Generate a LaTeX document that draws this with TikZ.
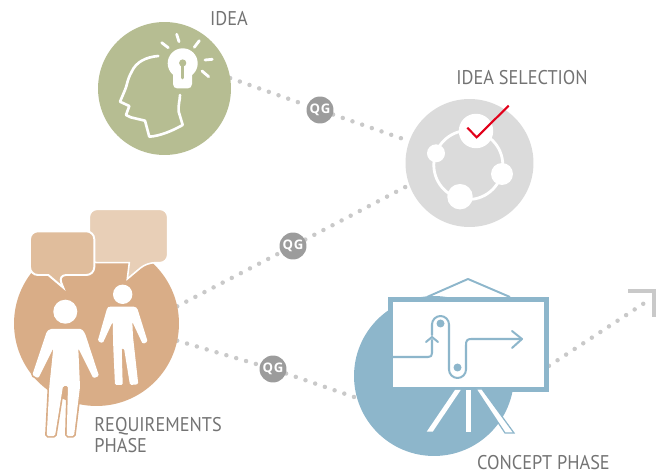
\documentclass[tikz,border=0pt]{standalone}
\usepackage{fontspec}
\usetikzlibrary{backgrounds}
\newfontfamily\labelfont[FakeStretch=0.92]{PT Sans}
\newfontfamily\badgefont[LetterSpace=6]{Open Sans}
\definecolor{ideagreen}{HTML}{B6BD92}
\definecolor{selectgrey}{HTML}{DBDBDB}
\definecolor{reqtan}{HTML}{D9AD87}
\definecolor{bubbleback}{HTML}{E8CFB7}
\definecolor{bubblefront}{HTML}{E0BD9C}
\definecolor{conceptblue}{HTML}{8DB6CB}
\definecolor{dotgrey}{HTML}{C9C9C9}
\definecolor{labelgrey}{HTML}{737373}
\definecolor{badgegrey}{HTML}{9C9C9C}
\definecolor{checkred}{HTML}{E2001A}

\begin{document}
\begin{tikzpicture}[
    x=0.02cm, y=-0.02cm,
    phase/.style={circle, inner sep=0pt, outer sep=0pt},
    knot/.style={circle, fill=white, inner sep=0pt, outer sep=0pt},
    badge/.style={circle, fill=badgegrey, text=white, inner sep=0pt, minimum size=0.54cm, font=\badgefont\bfseries\fontsize{7.5}{7.5}\selectfont},
    caption/.style={inner sep=0pt, text=labelgrey, font=\labelfont\fontsize{11.3}{12}\selectfont},
    link/.style={draw=dotgrey, line width=2.55pt, line cap=round, dash pattern=on 0pt off 5.84pt},
    stroke/.style={draw=white, line width=1.5pt, line cap=round, line join=round},
    person/.style={preaction={draw=reqtan, line width=1.9pt}, fill=white, rounded corners=0.8pt},
    pen/.style={draw=conceptblue, line width=1.15pt, line cap=round, line join=round}
]
    \useasboundingbox (0,0) rectangle (667,473);

    % phases
    \node[phase, fill=ideagreen, minimum size=2.66cm] (idea) at (164.5,88.5) {};
    \node[phase, fill=selectgrey, minimum size=2.56cm] (selection) at (469.5,163) {};
    \node[phase, fill=reqtan, minimum size=3.3cm] (requirements) at (96.5,323.5) {};
    \node[phase, fill=conceptblue, minimum size=3.2cm] (concept) at (434,376) {};

    % board
    \node[draw=conceptblue, fill=white, line width=2.84pt, minimum width=3.12cm, minimum height=1.79cm, inner sep=0pt] (board) at (468.5,344.3) {};

    % quality gates
    \node[badge] (qgidea) at (320,110) {QG};
    \node[badge] (qgreq) at (293,246) {QG};
    \node[badge] (qgconcept) at (273,369) {QG};

    % end of the last link
    \coordinate (goal) at (646,302);

    % links
    \begin{scope}[on background layer]
        \draw[link] (idea.9) -- (qgidea) -- (selection.160);
        \draw[link] (requirements.12) -- (qgreq) -- (selection.200);
        \draw[link] (requirements.-12) -- (qgconcept) -- (concept.196);
        \draw[link] (board.-15) -- (goal);
    \end{scope}
    \draw[draw=dotgrey, line width=2.4pt] (628,291) -- (654,291) -- (654,317);

    % head with bulb
    \draw[stroke] (158.3,56) .. controls (146,57) and (136,62) .. (131.7,71.7) .. controls (127,80) and (127,86) .. (125,90) -- (120,101.7) -- (129.3,106) -- (126,115) -- (130.7,117.3) -- (145,120.7) -- (149.3,136.7) .. controls (160,136) and (172,131) .. (182.7,125) -- (178.7,111.7) .. controls (178,105) and (180,100) .. (180,95);
    \fill[white] (182.7,63.3) circle (15);
    \fill[white, rounded corners=2.5pt] (173,68) -- (192,68) -- (192,88.5) -- (173,88.5) -- cycle;
    \draw[draw=ideagreen, line width=1.7pt, line cap=round] (182.7,63) -- (182.7,78);
    \fill[ideagreen] (182.7,63) circle (3.6);
    \foreach \xa/\ya/\xb/\yb in {161.7/42.7/168.3/47.7, 176.7/34.3/179/41.7, 199.3/40.7/194.3/47.3, 205/60/212.3/59.3, 202/71/208.7/76.7}
        \draw[stroke, line width=1.6pt] (\xa,\ya) -- (\xb,\yb);

    % ring with knots
    \draw[draw=white, line width=1.6pt] (468.3,165) circle (34.5);
    \node[knot, minimum size=0.69cm] (knottop) at (476,131) {};
    \node[knot, minimum size=0.36cm] (knotleft) at (436,153.3) {};
    \node[knot, minimum size=0.44cm] (knotright) at (502,174) {};
    \node[knot, minimum size=0.51cm] (knotbottom) at (460,196.7) {};
    \draw[draw=checkred, line width=1.2pt] (467.3,127.7) -- (476.7,137.3) -- (508.7,105.7);

    % bubbles
    \draw[draw=white, fill=bubbleback, line width=0.9pt, rounded corners=4.5pt] (89.3,209.3) -- (167.7,209.3) -- (167.7,262.7) -- (146.7,262.7) [sharp corners] -- (127.3,279) -- (129.3,262.7) [rounded corners=4.5pt] -- (89.3,262.7) -- cycle;
    \draw[draw=white, fill=bubblefront, line width=1.1pt, rounded corners=4.5pt] (30,231.3) -- (94.3,231.3) -- (94.3,275) -- (58.3,275) [sharp corners] -- (63.3,287.7) -- (48.3,275) [rounded corners=4.5pt] -- (30,275) -- cycle;

    % people
    \path[person] (46.7,331.7) -- (50,329) -- (81.7,329) -- (85,333.3) -- (99,376) -- (93.3,378.3) -- (78.3,348.3) -- (80,386.7) -- (74,436) -- (66.7,436) -- (68,386) -- (63,386) -- (55,436) -- (46.7,436) -- (49.3,386.7) -- (53.3,348.3) -- (38.3,378.3) -- (32.3,375) -- cycle;
    \fill[white] (65.3,311.7) circle (12);
    \fill[white, rounded corners=0.8pt] (107.3,307.7) -- (109,306.7) -- (135,306.7) -- (137.3,308.3) -- (147.7,341.7) -- (142.7,344) -- (132.3,321.7) -- (133,336.7) -- (138.3,384.3) -- (130,385) -- (124,348.3) -- (121.7,348.3) -- (122.7,385) -- (115,385) -- (113.3,348) -- (112.7,321.7) -- (102.7,343.3) -- (97.7,341) -- cycle;
    \fill[white] (122.7,294.3) circle (9.7);

    % easel
    \draw[draw=conceptblue, line width=1.1pt, line join=round] (427,297) -- (468,279) -- (510,297);
    \fill[white] (455,390) -- (460.7,390) -- (432.7,431.7) -- (426.7,431.7) -- cycle;
    \fill[white] (466,390) -- (471,390) -- (471,431.7) -- (466,431.7) -- cycle;
    \draw[draw=conceptblue, fill=white, line width=0.7pt] (476,389) -- (482,389) -- (514,433) -- (505,433) -- cycle;

    % curve on the board
    \draw[pen] (393,357) -- (428,357) .. controls (431,357) and (432,356) .. (432,353) -- (432,340);
    \draw[pen] (426,342) -- (432,337) -- (438,342);
    \draw[pen] (432,335) -- (432,324.5) arc[start angle=180, end angle=360, radius=8.5] -- (449,369.5) arc[start angle=180, end angle=0, radius=8.5] -- (466,345) .. controls (466,341) and (467,339) .. (471,339) -- (521,339);
    \draw[pen] (512,331) -- (522,339) -- (512,348);
    \fill[conceptblue] (440.5,323.5) circle (4);
    \fill[conceptblue] (457.5,367.5) circle (4);

    % captions
    \node[caption] (ideatext) at (229,19) {IDEA};
    \node[caption] (selectiontext) at (522,78) {IDEA SELECTION};
    \node[caption, anchor=west, align=left] (requirementstext) at (94,435) {REQUIREMENTS\\PHASE};
    \node[caption] (concepttext) at (543.5,463) {CONCEPT PHASE};
\end{tikzpicture}
\end{document}
